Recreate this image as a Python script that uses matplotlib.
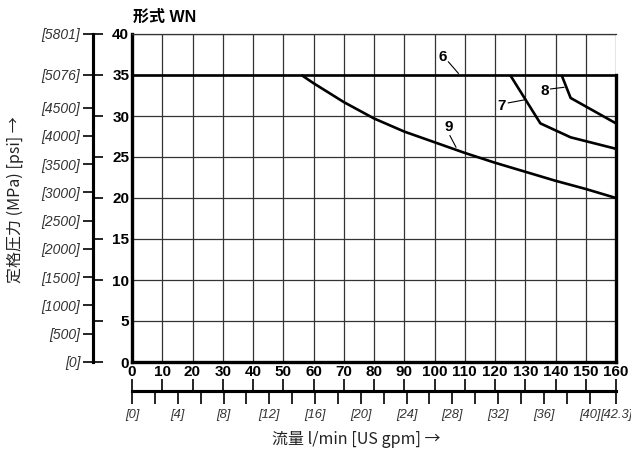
import matplotlib.pyplot as plt
import matplotlib.font_manager as fm

# chart data
flow_ticks = list(range(0, 161, 10))
mpa_ticks = list(range(0, 41, 5))
psi_ticks = [0, 500, 1000, 1500, 2000, 2500, 3000, 3500, 4000, 4500, 5076, 5801]
gpm_ticks = [0, 4, 8, 12, 16, 20, 24, 28, 32, 36, 40, 42.3]
gpm_minor = [2, 6, 10, 14, 18, 22, 26, 30, 34, 38]

flow_6 = [0, 160]
p_6 = [35, 35]
flow_7 = [125, 135, 145, 160]
p_7 = [35, 29.1, 27.4, 26.0]
flow_8 = [142, 145, 160]
p_8 = [35, 32.2, 29.1]
flow_9 = [56, 60, 70, 80, 90, 100, 110, 120, 130, 140, 150, 160]
p_9 = [35, 34.0, 31.7, 29.7, 28.1, 26.8, 25.5, 24.3, 23.2, 22.1, 21.1, 20.0]

# label text, label position, leader line start/end
curve_labels = {
    '6': ((102.7, 37.2), (104.6, 36.6), (107.9, 35.2)),
    '7': ((122.2, 31.2), (124.4, 31.6), (130.2, 32.0)),
    '8': ((136.5, 33.1), (138.4, 33.3), (142.8, 33.5)),
    '9': ((104.6, 28.6), (105.1, 27.6), (107.1, 26.2)),
}

PSI_PER_MPA = 5801 / 40.0
LPM_PER_GPM = 160 / 42.3

names = {f.name for f in fm.fontManager.ttflist}
narrow = 'Liberation Sans Narrow' if 'Liberation Sans Narrow' in names else 'Liberation Sans'
jp = ['Noto Sans CJK JP', 'DejaVu Sans']

fig = plt.figure(figsize=(6.31, 4.49), dpi=100)
ax = fig.add_axes([132 / 631, 87 / 449, 484 / 631, 328 / 449])

ax.set_xlim(0, 160)
ax.set_ylim(0, 40)
ax.set_xticks(flow_ticks)
ax.set_yticks(mpa_ticks)
ax.grid(True, color='#333333', linewidth=0.9)
ax.set_axisbelow(True)
ax.tick_params(length=0, labelsize=11, pad=2)
for lab in ax.get_xticklabels() + ax.get_yticklabels():
    lab.set_family(narrow)
    lab.set_weight('bold')

ax.spines['left'].set_linewidth(2.4)
ax.spines['bottom'].set_linewidth(2.4)
ax.spines['top'].set_linewidth(0.9)
ax.spines['top'].set_color('#333333')
ax.spines['right'].set_linewidth(2.4)
ax.spines['right'].set_bounds(0, 35)

for fx, py in [(flow_6, p_6), (flow_7, p_7), (flow_8, p_8), (flow_9, p_9)]:
    ax.plot(fx, py, color='black', linewidth=1.9, solid_capstyle='butt', clip_on=False)

for txt, (pos, a, b) in curve_labels.items():
    ax.text(pos[0], pos[1], txt, ha='center', va='center', fontsize=11,
            fontweight='bold', family=narrow)
    ax.plot([a[0], b[0]], [a[1], b[1]], color='black', linewidth=0.8)

# psi scale
yloc = (93 - 132) / 484
sy1 = ax.secondary_yaxis(yloc)
sy1.set_yticks(mpa_ticks)
sy1.tick_params(direction='in', length=7, width=1.2, labelleft=False)
sy1.spines['left'].set_linewidth(2.2)
sy2 = ax.secondary_yaxis(yloc, functions=(lambda m: m * PSI_PER_MPA, lambda p: p / PSI_PER_MPA))
sy2.set_yticks(psi_ticks)
sy2.set_yticklabels(['[%d]' % v for v in psi_ticks])
sy2.tick_params(direction='out', length=7, width=1.2, pad=2, labelsize=10, labelcolor='#333333')
sy2.spines['left'].set_linewidth(2.2)
for lab in sy2.get_yticklabels():
    lab.set_style('italic')
    lab.set_family('Liberation Sans')

# gpm scale
xloc = -(391 - 362) / 328
sx1 = ax.secondary_xaxis(xloc)
sx1.set_xticks(flow_ticks)
sx1.tick_params(direction='in', length=9, width=1.2, labelbottom=False)
sx1.spines['bottom'].set_linewidth(2.2)
sx2 = ax.secondary_xaxis(xloc, functions=(lambda l: l / LPM_PER_GPM, lambda g: g * LPM_PER_GPM))
sx2.set_xticks(gpm_ticks)
sx2.set_xticklabels(['[0]', '[4]', '[8]', '[12]', '[16]', '[20]', '[24]', '[28]', '[32]',
                     '[36]', '[40]', '[42.3]'])
sx2.set_xticks(gpm_minor, minor=True)
sx2.tick_params(which='both', direction='out', length=9, width=1.2, pad=4,
                labelsize=9.3, labelcolor='#333333')
sx2.spines['bottom'].set_linewidth(2.2)
for lab in sx2.get_xticklabels():
    lab.set_style('italic')
    lab.set_family('Liberation Sans')

fig.text(133 / 631, 1 - 17 / 449, '形式 WN', ha='left', va='center', fontsize=11.5,
         fontweight='bold', family=['Liberation Sans', 'Noto Sans CJK JP'])
fig.text(15 / 631, 1 - 200 / 449, '定格圧力 (MPa) [psi] →', rotation=90, ha='center',
         va='center', fontsize=11.5, family=jp, color='#222222')
fig.text(356 / 631, 1 - 439 / 449, '流量 l/min [US gpm] →', ha='center', va='center',
         fontsize=11.5, family=jp, color='#222222')

fig.savefig('out.png', dpi=100)
